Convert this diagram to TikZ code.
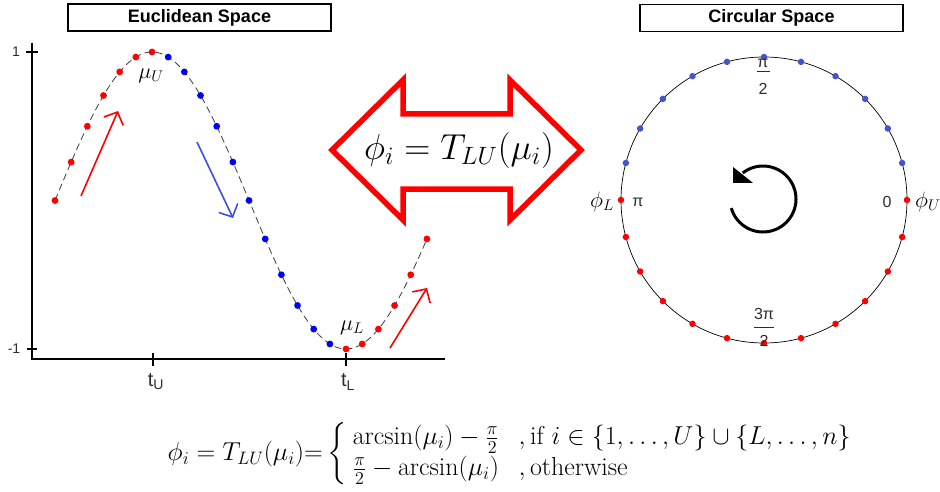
\documentclass[tikz,border=0pt]{standalone}
\usepackage{fontspec}
\setsansfont{Liberation Sans}
\usepackage{amsmath}
\usepackage{graphicx}
\usetikzlibrary{arrows.meta}
\definecolor{cblue}{RGB}{66,84,206}
\definecolor{ablue}{RGB}{60,80,220}
\definecolor{labgray}{RGB}{45,45,45}
\definecolor{dashgray}{RGB}{60,60,60}
\begin{document}
\begin{tikzpicture}[x=1pt,y=-1pt,
  titlebox/.style={draw=black, line width=1.4pt, minimum width=263pt, minimum height=27pt, inner sep=0pt,
    font=\sffamily\bfseries\fontsize{18}{20}\selectfont},
  rdot/.style={circle, fill=red, inner sep=0pt, minimum size=6.8pt},
  bdot/.style={circle, fill=blue, inner sep=0pt, minimum size=6.8pt},
  crdot/.style={circle, fill=red, inner sep=0pt, minimum size=6.5pt},
  cbdot/.style={circle, fill=cblue, inner sep=0pt, minimum size=6.5pt},
  axisline/.style={line width=2pt, black},
  ticklbl/.style={font=\sffamily\fontsize{14}{16}\selectfont, text=labgray, inner sep=0pt},
  tlbl/.style={font=\sffamily\fontsize{20}{22}\selectfont, text=labgray, inner sep=0pt},
  circlbl/.style={font=\sffamily\fontsize{16}{18}\selectfont, text=labgray, inner sep=0pt},
  mathlbl/.style={font=\fontsize{20.74}{25}\selectfont, inner sep=0pt},
  bigmath/.style={font=\fontsize{20.74}{25}\selectfont, inner sep=0pt},
  trendarrow/.style={line width=1.6pt, -{Straight Barb[length=10pt,width=21pt]}},
]
\useasboundingbox (0,0) rectangle (940,492);

% titles
\node[titlebox] (eu) at (199.5,17.5) {Euclidean Space};
\node[titlebox] (ci) at (771.5,18) {Circular Space};

% axes
\draw[axisline] (32,43) -- (32,359) -- (445,359);
\draw[axisline] (26,52) -- (38,52);
\draw[axisline] (27,349) -- (37,349);
\draw[axisline] (153,353) -- (153,366);
\draw[axisline] (346,353) -- (346,366);
\node[ticklbl] (y1) at (16,52) {1};
\node[ticklbl] (ym1) at (14,349) {-1};
\node[tlbl] (tu) at (156,382) {t\textsubscript{U}};
\node[tlbl] (tl) at (348,382) {t\textsubscript{L}};

% dashed sine curve
\draw[dashgray, line width=0.8pt, dash pattern=on 7pt off 4pt]
  plot[domain=0:345, samples=120] ({55+16.17*\x/15},{200.5-148.5*sin(\x)});

% dots on the curve
\foreach \k in {0,...,6}
  \node[rdot] (p\k) at ({55+16.17*\k},{200.5-148.5*sin(15*\k)}) {};
\foreach \k in {7,...,17}
  \node[bdot] (p\k) at ({55+16.17*\k},{200.5-148.5*sin(15*\k)}) {};
\foreach \k in {18,...,23}
  \node[rdot] (p\k) at ({55+16.17*\k},{200.5-148.5*sin(15*\k)}) {};

\node[mathlbl] (muU) at (151,76) {\scalebox{1.07}{$\mu_U$}};
\node[mathlbl] (muL) at (352,328) {\scalebox{1.07}{$\mu_L$}};

% trend arrows
\coordinate (ra1s) at (81,196);  \coordinate (ra1e) at (118,111);
\coordinate (bas)  at (197,142); \coordinate (bae)  at (233,218);
\coordinate (ra2s) at (390,348); \coordinate (ra2e) at (427,288);
\draw[trendarrow, red] (ra1s) -- (ra1e);
\draw[trendarrow, ablue] (bas) -- (bae);
\draw[trendarrow, red] (ra2s) -- (ra2e);

% big double arrow
\draw[red, line width=5.5pt, miter limit=10]
  (332,150) -- (403,80) -- (403,114) -- (510,114) -- (510,80) -- (581,150)
  -- (510,220) -- (510,189) -- (403,189) -- (403,220) -- cycle;
\node[bigmath] (tf) at (459,150) {\scalebox{1.74}{$\phi_i = T_{LU}(\mu_i)$}};

% circle
\coordinate (cc) at (764,200);
\draw[black, line width=0.7pt] (cc) circle[radius=143];
\foreach \a in {15,30,...,165}
  \node[cbdot] at ([shift={(-\a:143)}]cc) {};
\foreach \a in {0,180,195,210,...,345}
  \node[crdot] at ([shift={(-\a:143)}]cc) {};

% circle labels
\node[circlbl] (pi2a) at (763,63) {π};
\draw[labgray, line width=0.8pt] (757,71) -- (770,71);
\node[circlbl] (pi2b) at (763,89) {2};
\node[circlbl] (pi3a) at (764,314) {3π};
\draw[labgray, line width=0.8pt] (754,327) -- (774,327);
\node[circlbl] (pi3b) at (764,341) {2};
\node[circlbl] (piL) at (638,202) {π};
\node[circlbl] (zero) at (887,202) {0};
\node[mathlbl, anchor=east] (phiL) at (614,202) {\scalebox{1.07}{$\phi_L$}};
\node[mathlbl, anchor=west] (phiU) at (915,202) {\scalebox{1.07}{$\phi_U$}};

% rotation arrow
\coordinate (rc) at (763,199);
\draw[line width=3pt] ([shift={(-196:33)}]rc) arc[start angle=-196, end angle=-488, radius=33];
\fill (733,167) -- (733,183) -- (753,183) -- cycle;

% bottom formula
\node[bigmath] (eq) at (513,454)
{\scalebox{1.25}{$\phi_i = T_{LU}(\mu_i) {=} \left\{\begin{array}{ll}
\arcsin(\mu_i) - \frac{\pi}{2}\; & ,\text{if } i \in \{1,\dots,U\} \cup \{L,\dots,n\}\\
\frac{\pi}{2} - \arcsin(\mu_i)\; & ,\text{otherwise}
\end{array}\right.$}};
\end{tikzpicture}
\end{document}
